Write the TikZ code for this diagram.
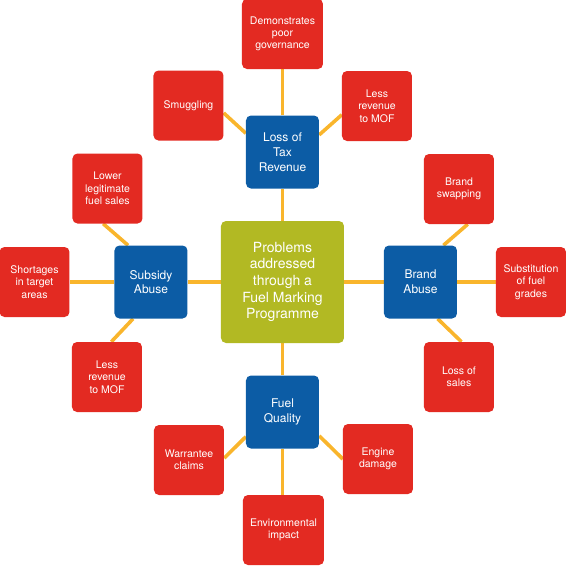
\documentclass[tikz,border=0pt]{standalone}
\usepackage{fontspec}
\setmainfont{TeX Gyre Heros}
\usetikzlibrary{backgrounds}
\definecolor{hubgreen}{RGB}{178,185,35}
\definecolor{causeblue}{RGB}{12,92,165}
\definecolor{effectred}{RGB}{227,42,34}
\definecolor{linkorange}{RGB}{249,181,44}
\tikzstyle{hub} = [rectangle, rounded corners=5pt, minimum width=123pt, minimum height=122pt, align=center, fill=hubgreen, text=white, font=\fontsize{14}{16.7}\selectfont]
\tikzstyle{cause} = [rectangle, rounded corners=5pt, minimum width=73pt, minimum height=73pt, align=center, fill=causeblue, text=white, font=\fontsize{12}{14.7}\selectfont]
\tikzstyle{effect} = [rectangle, rounded corners=5pt, minimum width=70pt, minimum height=70pt, align=center, fill=effectred, text=white, font=\fontsize{10.5}{12.3}\selectfont]
\tikzstyle{link} = [draw=linkorange, line width=3.6pt]

\begin{document}
\begin{tikzpicture}[x=1pt, y=1pt]
		\useasboundingbox (-282.5,-283.5) rectangle (283.5,282.5);
		\node (hub) [hub] at (0,0.5) {
			Problems\\addressed\\through a\\Fuel Marking\\Programme
		};
		\node (tax) [cause, above of=hub, node distance=130pt] {Loss of\\Tax\\Revenue};
		\node (subsidy) [cause, left of=hub, node distance=131.5pt] {Subsidy\\Abuse};
		\node (brand) [cause, right of=hub, node distance=138pt] {Brand\\Abuse};
		\node (fuel) [cause, below of=hub, node distance=130pt] {Fuel\\Quality};
		\node (govern) [effect, minimum width=81pt, above of=tax, node distance=118pt] {Demonstrates\\poor\\governance};
		\node (environ) [effect, minimum width=81pt, below of=fuel, node distance=118pt, xshift=1pt] {Environmental\\impact};
		\node (shortage) [effect, left of=subsidy, node distance=116.5pt] {Shortages\\in target\\areas};
		\node (substit) [effect, right of=brand, node distance=110.5pt] {Substitution\\of fuel\\grades};
		\node (smuggle) [effect] at (-94,177) {Smuggling};
		\node (mofTop) [effect] at (94.5,176.5) {Less\\revenue\\to MOF};
		\node (legit) [effect] at (-175,94) {Lower\\legitimate\\fuel sales};
		\node (mofLeft) [effect] at (-175.5,-94.5) {Less\\revenue\\to MOF};
		\node (swapping) [effect] at (176.5,93.5) {Brand\\swapping};
		\node (sales) [effect] at (176.5,-94.5) {Loss of\\sales};
		\node (warranty) [effect] at (-93.5,-177.5) {Warrantee\\claims};
		\node (engine) [effect] at (95.5,-176.5) {Engine\\damage};
		\begin{pgfonlayer}{background}
		\draw [link] (hub) -- (tax);
		\draw [link] (hub) -- (subsidy);
		\draw [link] (hub) -- (brand);
		\draw [link] (hub) -- (fuel);
		\draw [link] (tax) -- (govern);
		\draw [link] (tax.153) -- (smuggle.-12);
		\draw [link] (tax.25) -- (mofTop.194);
		\draw [link] (subsidy) -- (shortage);
		\draw [link] (subsidy.122) -- (legit.263);
		\draw [link] (subsidy.244) -- (mofLeft.83);
		\draw [link] (brand) -- (substit);
		\draw [link] (brand.58) -- (swapping.284);
		\draw [link] (brand.295) -- (sales.86);
		\draw [link] (fuel) -- (fuel |- environ.north);
		\draw [link] (fuel.214) -- (warranty.3);
		\draw [link] (fuel.327) -- (engine.180);
		\end{pgfonlayer}
	\end{tikzpicture}
\end{document}
